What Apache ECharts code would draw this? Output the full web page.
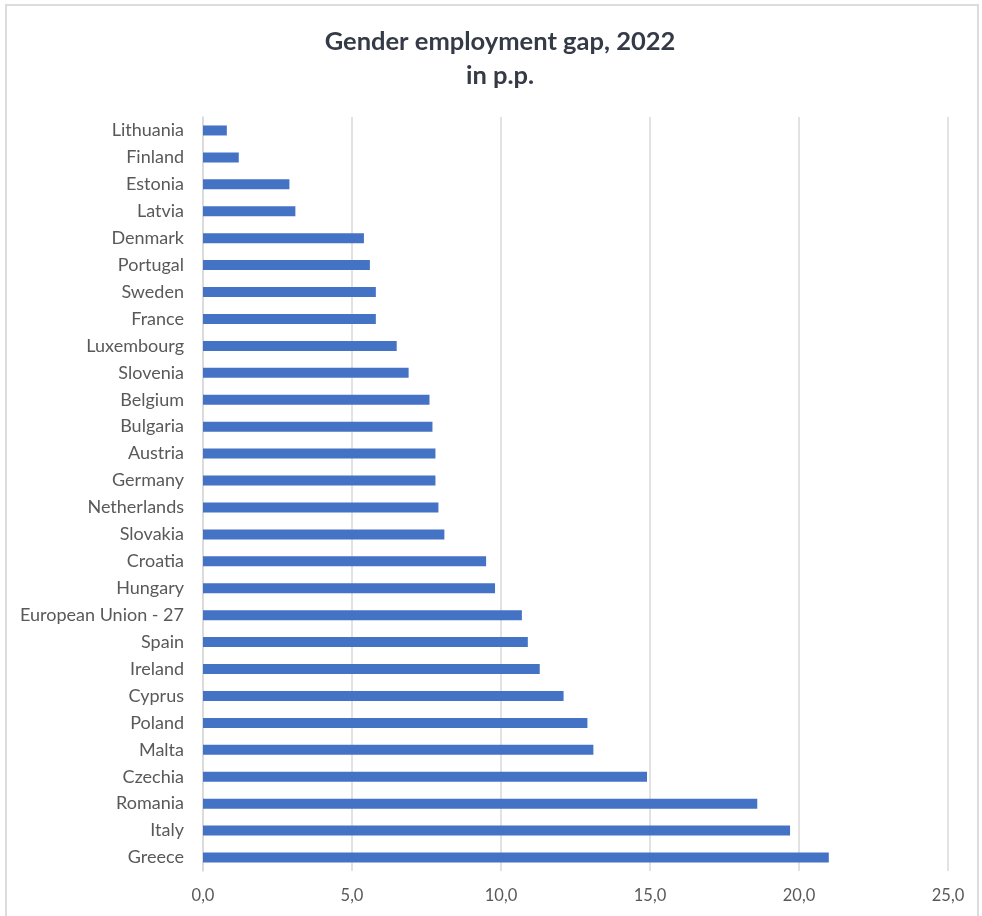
<!DOCTYPE html>
<html>
<head>
<meta charset="utf-8">
<title>Gender employment gap, 2022</title>
<script src="https://cdn.jsdelivr.net/npm/echarts@6/dist/echarts.min.js"></script>
<style>
  html, body { margin: 0; padding: 0; background: #fff; }
  #frame {
    position: absolute; left: 5px; top: 4px; width: 974px; height: 920px;
    border: 2px solid #dcdcdc; border-bottom: none; box-sizing: border-box;
  }
  #main { position: absolute; left: 0; top: 0; width: 982px; height: 916px; }
</style>
</head>
<body>
<div id="frame"></div>
<div id="main"></div>
<script>
// countries, top to bottom as shown
var countries = ['Lithuania', 'Finland', 'Estonia', 'Latvia', 'Denmark', 'Portugal', 'Sweden',
    'France', 'Luxembourg', 'Slovenia', 'Belgium', 'Bulgaria', 'Austria', 'Germany',
    'Netherlands', 'Slovakia', 'Croatia', 'Hungary', 'European Union - 27', 'Spain',
    'Ireland', 'Cyprus', 'Poland', 'Malta', 'Czechia', 'Romania', 'Italy', 'Greece'];

// gap in percentage points
var gap = [0.8, 1.2, 2.9, 3.1, 5.4, 5.6, 5.8,
    5.8, 6.5, 6.9, 7.6, 7.7, 7.8, 7.8,
    7.9, 8.1, 9.5, 9.8, 10.7, 10.9,
    11.3, 12.1, 12.9, 13.1, 14.9, 18.6, 19.7, 21.0];

var xTicks = [0, 5, 10, 15, 20, 25];

var chart = echarts.init(document.getElementById('main'));

var option = {
    backgroundColor: 'transparent',
    animation: false,
    title: {
        text: 'Gender employment gap, 2022\nin p.p.',
        left: 495,
        top: 20,
        textAlign: 'center',
        textStyle: {
            fontFamily: 'Lato',
            fontWeight: 'bold',
            fontSize: 25.5,
            color: '#343a46',
            lineHeight: 34
        }
    },
    grid: {
        left: 203,
        right: 34,
        top: 117,
        bottom: 45,
        containLabel: false
    },
    xAxis: {
        type: 'value',
        min: xTicks[0],
        max: xTicks[xTicks.length - 1],
        interval: 5,
        axisLine: { show: false },
        axisTick: { show: false },
        splitLine: { show: true, lineStyle: { color: '#d9d9d9', width: 1.5 } },
        axisLabel: {
            margin: 16,
            fontFamily: 'Lato',
            fontSize: 16.5,
            color: '#595959',
            formatter: function (v) { return v.toFixed(1).replace('.', ','); }
        }
    },
    yAxis: {
        type: 'category',
        inverse: true,
        data: countries,
        axisLine: { show: true, lineStyle: { color: '#d9d9d9', width: 1.5 } },
        axisTick: { show: false },
        axisLabel: {
            margin: 19,
            fontFamily: 'Lato',
            fontSize: 18,
            color: '#595959'
        }
    },
    series: [{
        type: 'bar',
        data: gap,
        barWidth: 10,
        itemStyle: { color: '#4472c4' }
    }]
};

chart.setOption(option);
window.onresize = chart.resize;
</script>
</body>
</html>
